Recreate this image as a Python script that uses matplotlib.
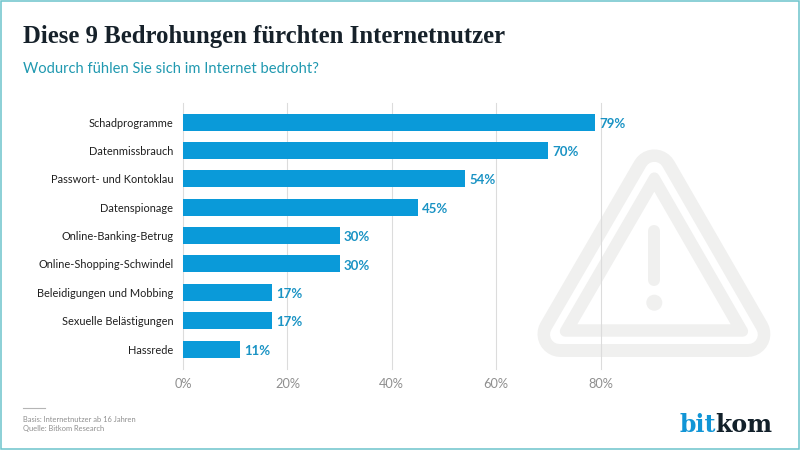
import numpy as np
import matplotlib
matplotlib.use('Agg')
import matplotlib.pyplot as plt
from matplotlib.patches import Polygon, Circle, Rectangle
from matplotlib.lines import Line2D

categories = ["Schadprogramme", "Datenmissbrauch", "Passwort- und Kontoklau", "Datenspionage",
              "Online-Banking-Betrug", "Online-Shopping-Schwindel", "Beleidigungen und Mobbing",
              "Sexuelle Belästigungen", "Hassrede"]
values = [79, 70, 54, 45, 30, 30, 17, 17, 11]
xticks = [0, 20, 40, 60, 80]
title = "Diese 9 Bedrohungen fürchten Internetnutzer"
subtitle = "Wodurch fühlen Sie sich im Internet bedroht?"
foot1 = "Basis: Internetnutzer ab 16 Jahren"
foot2 = "Quelle: Bitkom Research"

W, H = 800, 450
BLUE = '#0a9ad9'
LABEL = '#1a93c4'
TEAL = '#6cc4cc'
GRAY = '#f0f0ef'

plt.rcParams['font.family'] = ['Lato', 'DejaVu Sans']
fig = plt.figure(figsize=(8, 4.5), dpi=100, facecolor='white')

bg = fig.add_axes([0, 0, 1, 1], zorder=0)
bg.set_xlim(0, W); bg.set_ylim(H, 0); bg.axis('off')

# warning triangle watermark
core = np.array([[654.3, 191.7], [577.3, 324.3], [730.7, 324.3]])
cen = np.array([654.3, 279.9])
rho = 44.4
def tri(offset, radius, color):
    scale = (rho + offset - radius) / rho
    bg.add_patch(Polygon(cen + (core - cen) * scale, closed=True, fc=color, ec=color,
                         lw=2 * radius * 0.72, joinstyle='round'))
tri(32.7, 23, GRAY)
tri(19.7, 9.4, 'white')
tri(12.4, 5.4, GRAY)
bg.add_patch(Polygon(core, closed=True, fc='white', ec='none'))
bg.add_line(Line2D([654.3, 654.3], [231, 280], color=GRAY, lw=12 * 0.72, solid_capstyle='round'))
bg.add_patch(Circle((654.3, 302.7), 8, fc=GRAY, ec='none'))

# border
bg.add_patch(Rectangle((0.7, 0.7), W - 1.4, H - 1.4, fc='none', ec=TEAL, lw=1.1))

# main chart
x0, x80 = 183, 600.5
top, bottom = 103, 369
ax = fig.add_axes([x0 / W, 1 - bottom / H, (x80 - x0) / W, (bottom - top) / H], zorder=1)
ax.patch.set_alpha(0)
ypos = np.arange(len(categories))
ax.barh(ypos, values, height=0.6, color=BLUE, zorder=3)
ax.set_xlim(0, 80)
ax.set_ylim(8.7, -0.67)
for s in ax.spines.values():
    s.set_visible(False)
ax.set_xticks(xticks)
ax.set_xticklabels([f"{t}%" for t in xticks], fontsize=9.2, color='#8f8f8f')
ax.set_yticks(ypos)
ax.set_yticklabels(categories, fontsize=7.9, color='#1f1f1f')
ax.tick_params(axis='both', length=0)
ax.tick_params(axis='x', pad=6.5)
ax.tick_params(axis='y', pad=7)
ax.grid(axis='x', color='#dcdcdc', lw=0.8, zorder=1)
for gl in ax.get_xgridlines():
    gl.set_clip_on(False)
ax.set_axisbelow(True)
for y, v in zip(ypos, values):
    ax.text(v + 0.8, y + 0.02, f"{v}%", va='center_baseline', ha='left', fontsize=9.5, fontweight='bold',
            color=LABEL, clip_on=False)

# header and footer
fg = fig.add_axes([0, 0, 1, 1], zorder=2)
fg.set_xlim(0, W); fg.set_ylim(H, 0); fg.axis('off')
fg.text(23, 36, title, fontsize=17.8, fontweight='bold', family='Liberation Serif',
        color='#16212a', va='center', ha='left')
fg.text(23, 69, subtitle, fontsize=10.6, color='#2099b0', va='center', ha='left')
fg.add_line(Line2D([23, 45], [408, 408], color='#b5b5b5', lw=0.8))
fg.text(23, 419, foot1, fontsize=5.4, color='#8f8f8f', va='center', ha='left')
fg.text(23, 428.5, foot2, fontsize=5.4, color='#8f8f8f', va='center', ha='left')
t1 = fg.text(679, 432, "bit", fontsize=17, fontweight='bold', family='DejaVu Serif',
             color='#1195d6', va='baseline', ha='left')
fig.canvas.draw()
bb = t1.get_window_extent()
fg.text(bb.x1 * W / fig.bbox.width, 432, "kom", fontsize=17, fontweight='bold', family='DejaVu Serif',
        color='#12202a', va='baseline', ha='left')

fig.savefig('out.png', dpi=100)
